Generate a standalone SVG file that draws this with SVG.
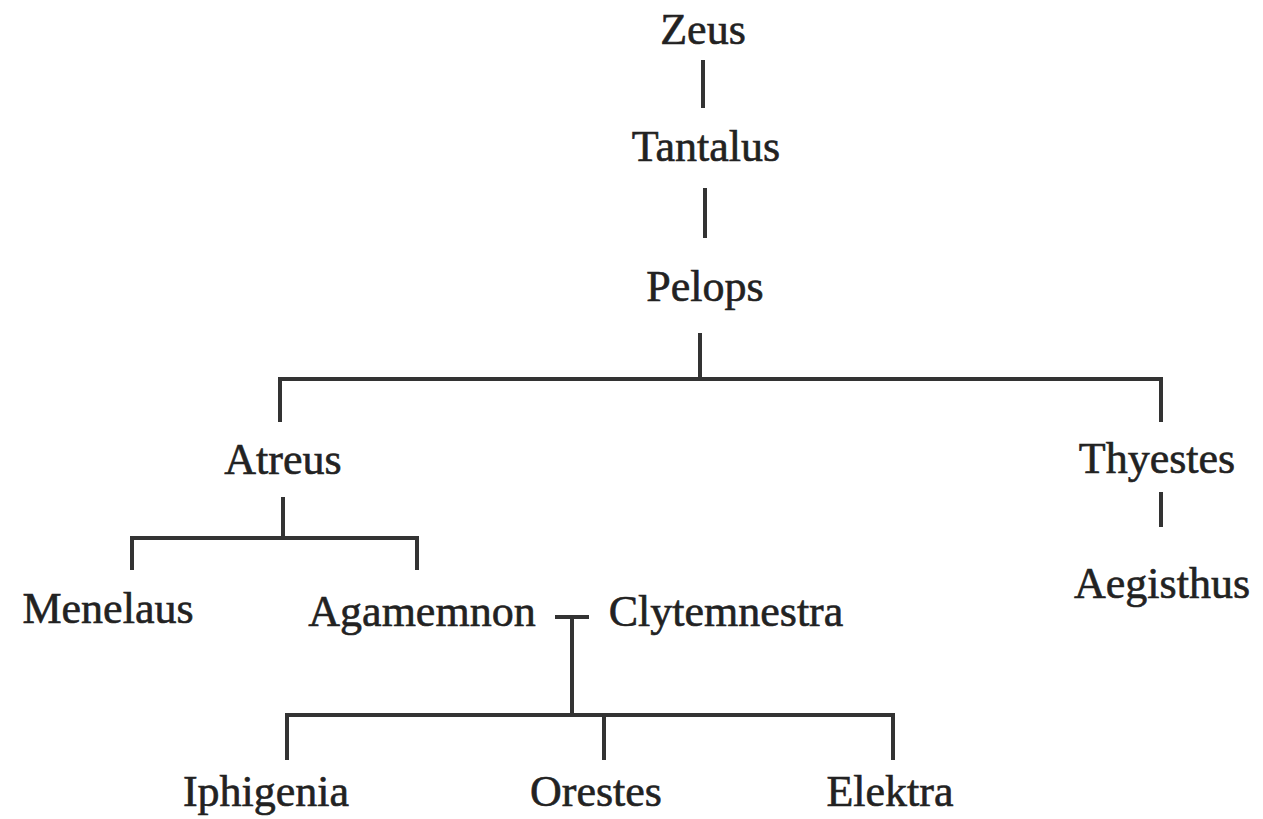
<svg xmlns="http://www.w3.org/2000/svg" width="1263" height="819" viewBox="0 0 1263 819">
<style>
text{font-family:"Liberation Serif","Times New Roman",serif;font-size:44px;fill:#222;stroke:#222;stroke-width:0.6;text-anchor:middle}
.c{stroke:#333;stroke-width:4;fill:none;stroke-linecap:butt}
</style>
<rect width="1263" height="819" fill="#fff"/>
<g id="connectors" class="c">
<line x1="703" y1="60" x2="703" y2="108"/>
<line x1="705" y1="188" x2="705" y2="238"/>
<line x1="700" y1="333" x2="700" y2="379"/>
<polyline points="280,422 280,379 1161,379 1161,422"/>
<line x1="283" y1="497" x2="283" y2="538"/>
<polyline points="132,570 132,538 417,538 417,570"/>
<line x1="1161" y1="492" x2="1161" y2="527"/>
<line x1="555" y1="617" x2="589" y2="617"/>
<line x1="572" y1="617" x2="572" y2="715"/>
<polyline points="287,760 287,715 893,715 893,760"/>
<line x1="604" y1="715" x2="604" y2="760"/>
</g>
<g id="zeus"><text x="703" y="44">Zeus</text></g>
<g id="tantalus"><text x="706" y="161">Tantalus</text></g>
<g id="pelops"><text x="705" y="301">Pelops</text></g>
<g id="atreus"><text x="283" y="474">Atreus</text></g>
<g id="thyestes"><text x="1157" y="473">Thyestes</text></g>
<g id="menelaus"><text x="108" y="623">Menelaus</text></g>
<g id="agamemnon"><text x="422" y="626">Agamemnon</text></g>
<g id="clytemnestra"><text x="726" y="626">Clytemnestra</text></g>
<g id="aegisthus"><text x="1162" y="598">Aegisthus</text></g>
<g id="iphigenia"><text x="266" y="806">Iphigenia</text></g>
<g id="orestes"><text x="596" y="806">Orestes</text></g>
<g id="elektra"><text x="890" y="806">Elektra</text></g>
</svg>
